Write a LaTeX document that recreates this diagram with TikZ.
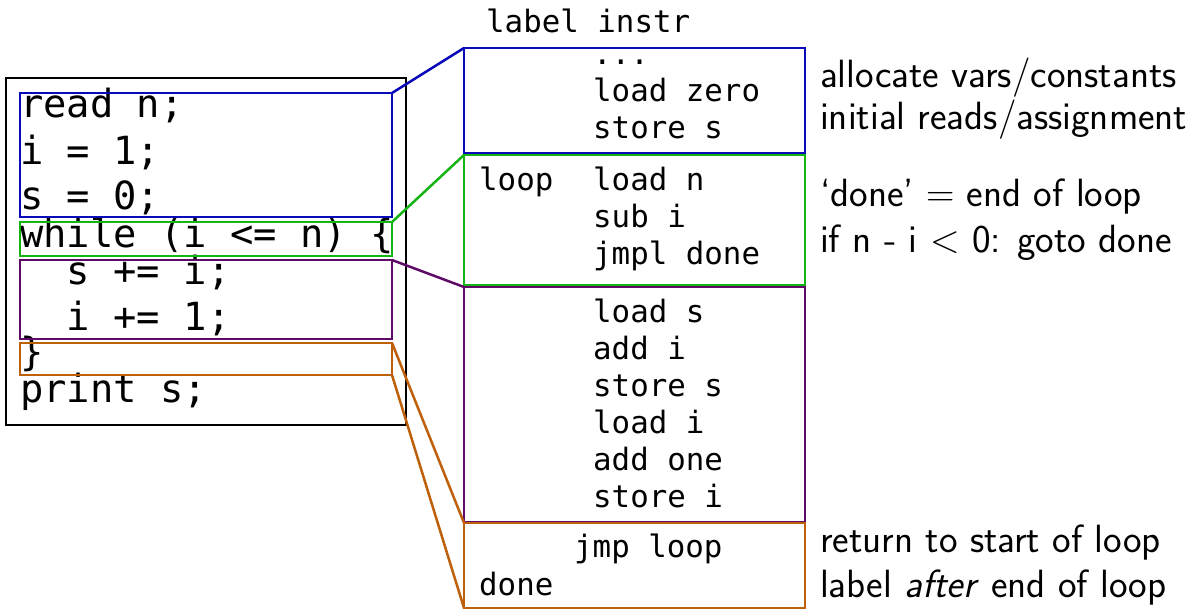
\RequirePackage{fix-cm}
\documentclass[tikz,border=0pt]{standalone}
\usepackage{fontspec}
\setmonofont{DejaVu Sans Mono}
\usepackage{tikz}

\definecolor{srcblue}{RGB}{10,10,185}
\definecolor{srcgreen}{RGB}{20,180,20}
\definecolor{srcpurple}{RGB}{95,10,105}
\definecolor{srcorange}{RGB}{190,95,10}

\tikzset{
	src/.style={font=\fontsize{38.8}{40}\selectfont\ttfamily, anchor=base west, inner sep=0pt},
	asm/.style={font=\fontsize{30.8}{37}\selectfont\ttfamily, anchor=base west, inner sep=0pt},
	note/.style={font=\fontsize{39.4}{42}\selectfont\sffamily, anchor=base west, inner sep=0pt},
	block/.style={draw, line width=2.5pt, inner sep=0pt, outer sep=0pt},
	link/.style={line width=2.5pt},
}

\begin{document}
\begin{tikzpicture}[x=1pt,y=-1pt]
	\def\ax{593}	%column of the instructions
	\def\lx{479}	%column of the labels
	\def\dy{37}		%line step on the right
	\useasboundingbox (0,0) rectangle (1187,609);
	
	%source code
	\node[block, minimum width=400pt, minimum height=347pt] (code) at (206,251.5) {};
	\foreach \y/\txt [count=\k] in {118/{read n;},165/{i = 1;},210/{s = 0;},248/{while (i <= n) \{},285/{\phantom{xx}s += i;},331/{\phantom{xx}i += 1;},366/{\}},403/{print s;}}
		\node[src] (line\k) at (20,\y) {\txt};
	\node[block, draw=srcblue, minimum width=372pt, minimum height=124pt] (srcinit) at (206,155) {};
	\node[block, draw=srcgreen, minimum width=372pt, minimum height=34pt] (srccond) at (206,239) {};
	\node[block, draw=srcpurple, minimum width=372pt, minimum height=79pt] (srcbody) at (206,299.5) {};
	\node[block, draw=srcorange, minimum width=372pt, minimum height=32pt] (srcend) at (206,359) {};
	
	%assembly
	\node[asm] (hdr) at (486,33) {label instr};
	\node[block, draw=srcblue, minimum width=341pt, minimum height=105pt] (asminit) at (634.5,100.5) {};
	\node[block, draw=srcgreen, minimum width=341pt, minimum height=130pt] (asmcond) at (634.5,220) {};
	\node[block, draw=srcpurple, minimum width=341pt, minimum height=235pt] (asmbody) at (634.5,404.5) {};
	\node[block, draw=srcorange, minimum width=341pt, minimum height=85pt] (asmend) at (634.5,565.5) {};
	
	\node[asm] (dots) at (\ax,65) {...};
	\foreach \txt [count=\k from 2] in {load zero,store s}
		\node[asm] (init\k) at (\ax,28+\dy*\k) {\txt};
	\node[asm] (looplbl) at (\lx,191) {loop};
	\foreach \txt [count=\k] in {load n,sub i,jmpl done}
		\node[asm] (cond\k) at (\ax,154+\dy*\k) {\txt};
	\foreach \txt [count=\k] in {load s,add i,store s,load i,add one,store i}
		\node[asm] (body\k) at (\ax,286+\dy*\k) {\txt};
	\node[asm] (jmp) at (\ax-19,558) {jmp loop};
	\node[asm] (donelbl) at (\lx,595) {done};
	
	%connectors
	\draw[srcblue, link] (srcinit.north east) -- (asminit.north west);
	\draw[srcgreen, link] (srccond.north east) -- (asmcond.north west);
	\draw[srcpurple, link] (srcbody.north east) -- (asmbody.north west);
	\draw[srcorange, link] (srcend.north east) -- (asmend.north west);
	\draw[srcorange, link] (srcend.south east) -- (asmend.south west);
	
	%comments
	\node[note] (alloc) at (820,88) {allocate vars/constants};
	\node[note] (reads) at (820,130) {initial reads/assignment};
	\node[note] (donedef) at (820,207) {`done' $=$ end of loop};
	\node[note] (test) at (820,253) {if n - i $<$ 0: goto done};
	\node[note] (ret) at (820,553) {return to start of loop};
	\node[note] (after) at (820,597) {label \textit{after} end of loop};
\end{tikzpicture}
\end{document}
